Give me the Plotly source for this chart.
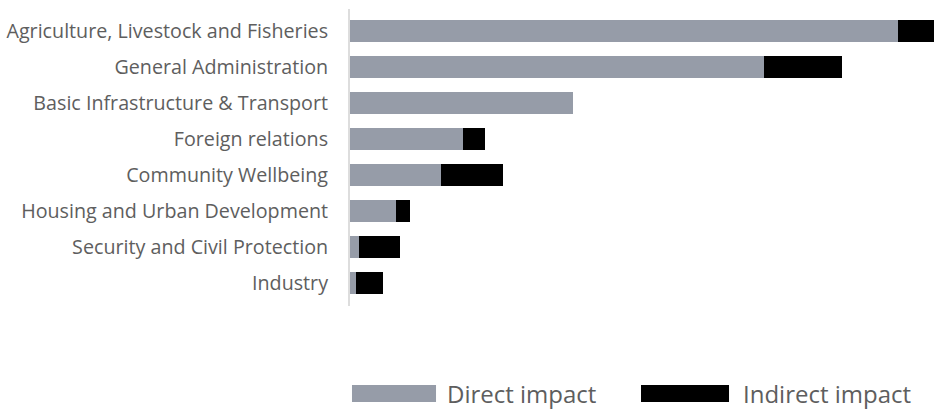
import plotly.graph_objects as go

categories = [
    "Agriculture, Livestock and Fisheries",
    "General Administration",
    "Basic Infrastructure & Transport",
    "Foreign relations",
    "Community Wellbeing",
    "Housing and Urban Development",
    "Security and Civil Protection",
    "Industry",
]
direct_impact = [548, 414, 223, 113, 91, 46, 9, 6]
indirect_impact = [36, 78, 0, 22, 62, 14, 41, 27]
series_names = ["Direct impact", "Indirect impact"]
colors = ["#969ca8", "#000000"]

FONT = "Open Sans"
TXT = "#5e5e5e"

fig = go.Figure()
for name, vals, col in zip(series_names, [direct_impact, indirect_impact], colors):
    fig.add_trace(go.Bar(
        y=categories, x=vals, orientation="h", name=name,
        marker=dict(color=col, line=dict(width=0)), showlegend=False,
    ))

# custom legend (wide swatches)
legend_items = [
    (0.0034, 0.1473, 0.1627),
    (0.4983, 0.6490, 0.6695),
]
for (x0, x1, tx), name, col in zip(legend_items, series_names, colors):
    fig.add_shape(type="rect", xref="paper", yref="paper", x0=x0, x1=x1,
                  y0=-0.3232, y1=-0.266, fillcolor=col, line=dict(width=0))
    fig.add_annotation(xref="paper", yref="paper", x=tx, y=-0.2946,
                       xanchor="left", yanchor="middle", text=name, showarrow=False,
                       font=dict(family=FONT, size=24, color=TXT))

fig.update_layout(
    barmode="stack",
    bargap=0.389,
    width=934, height=412,
    margin=dict(l=350, r=0, t=9, b=106),
    paper_bgcolor="white", plot_bgcolor="white",
    font=dict(family=FONT, size=19.7, color=TXT),
    xaxis=dict(range=[0, 584], visible=False, showgrid=False, zeroline=False),
    yaxis=dict(
        range=[7.64, -0.611], showline=True, linecolor="#dddddd", linewidth=2,
        showgrid=False, zeroline=False, ticks="outside", ticklen=16,
        tickcolor="rgba(0,0,0,0)", tickfont=dict(family=FONT, size=19.7, color=TXT),
    ),
)

fig.write_html(
    "out.html",
    config={"displayModeBar": False},
    post_script="document.body.style.margin='0';document.body.style.overflow='hidden';",
)
